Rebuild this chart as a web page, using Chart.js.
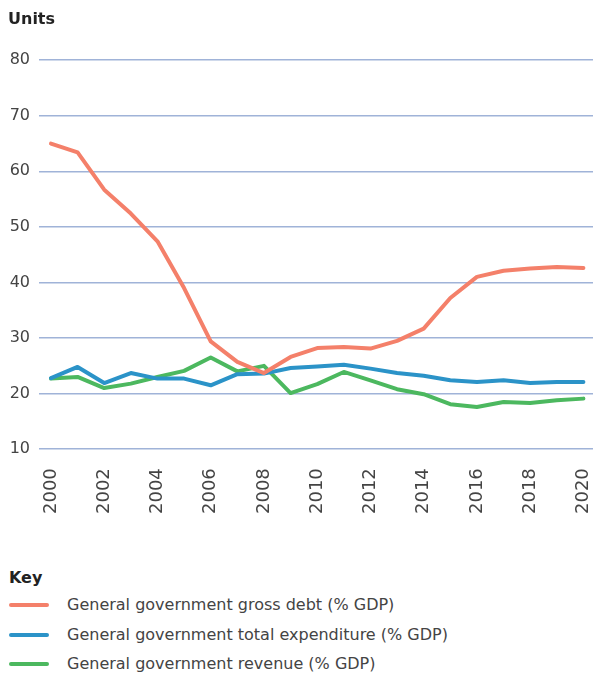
<!DOCTYPE html>
<html>
<head>
<meta charset="utf-8">
<script src="https://cdn.jsdelivr.net/npm/chart.js@4"></script>
<style>
  html, body { margin: 0; padding: 0; background: #fff; overflow: hidden; }
  #wrap { position: relative; width: 593px; height: 675px; overflow: hidden; font-family: 'DejaVu Sans', sans-serif; }
  #box { position: absolute; left: 0; top: 0; width: 624px; height: 540px; }
  #key { position: absolute; left: 0; top: 568px; width: 593px; }
  .keyTitle { position: absolute; left: 9px; top: 0; font-weight: bold; font-size: 16px; color: #222; }
  .item { position: absolute; left: 0; height: 20px; width: 593px; }
  .swatch { position: absolute; left: 9px; top: 8px; width: 40px; height: 4px; border-radius: 2px; }
  .label { position: absolute; left: 67px; top: 0; font-size: 16px; line-height: 20px; color: #444; white-space: nowrap; }
</style>
</head>
<body>
<div id="wrap">
  <div id="box"><canvas id="myChart"></canvas></div>
  <div id="key"><div class="keyTitle">Key</div></div>
</div>
<script>
const years = [2000, 2001, 2002, 2003, 2004, 2005, 2006, 2007, 2008, 2009, 2010,
  2011, 2012, 2013, 2014, 2015, 2016, 2017, 2018, 2019, 2020];
const grossDebt = [65.0, 63.4, 56.7, 52.4, 47.4, 39.0, 29.4, 25.7, 23.7, 26.6, 28.2,
  28.4, 28.1, 29.5, 31.7, 37.2, 41.0, 42.1, 42.5, 42.8, 42.6];
const totalExpenditure = [22.8, 24.8, 21.9, 23.7, 22.7, 22.7, 21.5, 23.5, 23.6, 24.6, 24.9,
  25.2, 24.5, 23.7, 23.2, 22.4, 22.1, 22.4, 21.9, 22.1, 22.1];
const revenue = [22.7, 23.0, 21.0, 21.8, 23.0, 24.1, 26.5, 24.0, 25.0, 20.1, 21.7,
  23.9, 22.4, 20.8, 19.9, 18.1, 17.6, 18.5, 18.3, 18.8, 19.1];

const seriesNames = [
  'General government gross debt (% GDP)',
  'General government total expenditure (% GDP)',
  'General government revenue (% GDP)'
];
const seriesColors = ['#f4806a', '#2b93c8', '#4cb85f'];
const seriesValues = [grossDebt, totalExpenditure, revenue];

const fontFamily = "'DejaVu Sans', sans-serif";

function points(values) {
  return values.map((v, i) => ({ x: years[i], y: v }));
}

const ctx = document.getElementById('myChart').getContext('2d');

const myChart = new Chart(ctx, {
  type: 'line',
  data: {
    datasets: seriesNames.map((name, i) => ({
      label: name,
      data: points(seriesValues[i]),
      borderColor: seriesColors[i],
      backgroundColor: seriesColors[i],
      borderWidth: 4,
      pointRadius: 0,
      tension: 0,
      fill: false,
      borderJoinStyle: 'round',
      borderCapStyle: 'round'
    }))
  },
  options: {
    responsive: true,
    maintainAspectRatio: false,
    animation: false,
    layout: { padding: { left: 8, right: 0, top: 0, bottom: 7 } },
    plugins: {
      legend: { display: false },
      tooltip: { enabled: false },
      title: {
        display: true,
        text: 'Units',
        align: 'start',
        color: '#222',
        font: { family: fontFamily, size: 16, weight: 'bold' },
        padding: { top: 10, bottom: 31 }
      }
    },
    scales: {
      x: {
        type: 'linear',
        min: 1999.55,
        max: 2020.38,
        grid: { display: false, drawTicks: false },
        border: { display: false },
        ticks: {
          stepSize: 2,
          includeBounds: false,
          minRotation: 90,
          maxRotation: 90,
          padding: 19,
          color: '#444',
          font: { family: fontFamily, size: 18 },
          callback: v => String(v)
        }
      },
      y: {
        min: 10,
        max: 80,
        afterFit: scale => { scale.width = 31; },
        grid: { color: '#a0b3d8', lineWidth: 1.5, drawTicks: false },
        border: { display: false },
        ticks: {
          stepSize: 10,
          padding: 9,
          color: '#444',
          font: { family: fontFamily, size: 16 }
        }
      }
    }
  }
});

// key below the chart
const key = document.getElementById('key');
seriesNames.forEach((name, i) => {
  const item = document.createElement('div');
  item.className = 'item';
  item.style.top = (27 + i * 29.5) + 'px';
  const sw = document.createElement('div');
  sw.className = 'swatch';
  sw.style.background = seriesColors[i];
  const lab = document.createElement('div');
  lab.className = 'label';
  lab.innerText = name;
  item.appendChild(sw);
  item.appendChild(lab);
  key.appendChild(item);
});
</script>
</body>
</html>
